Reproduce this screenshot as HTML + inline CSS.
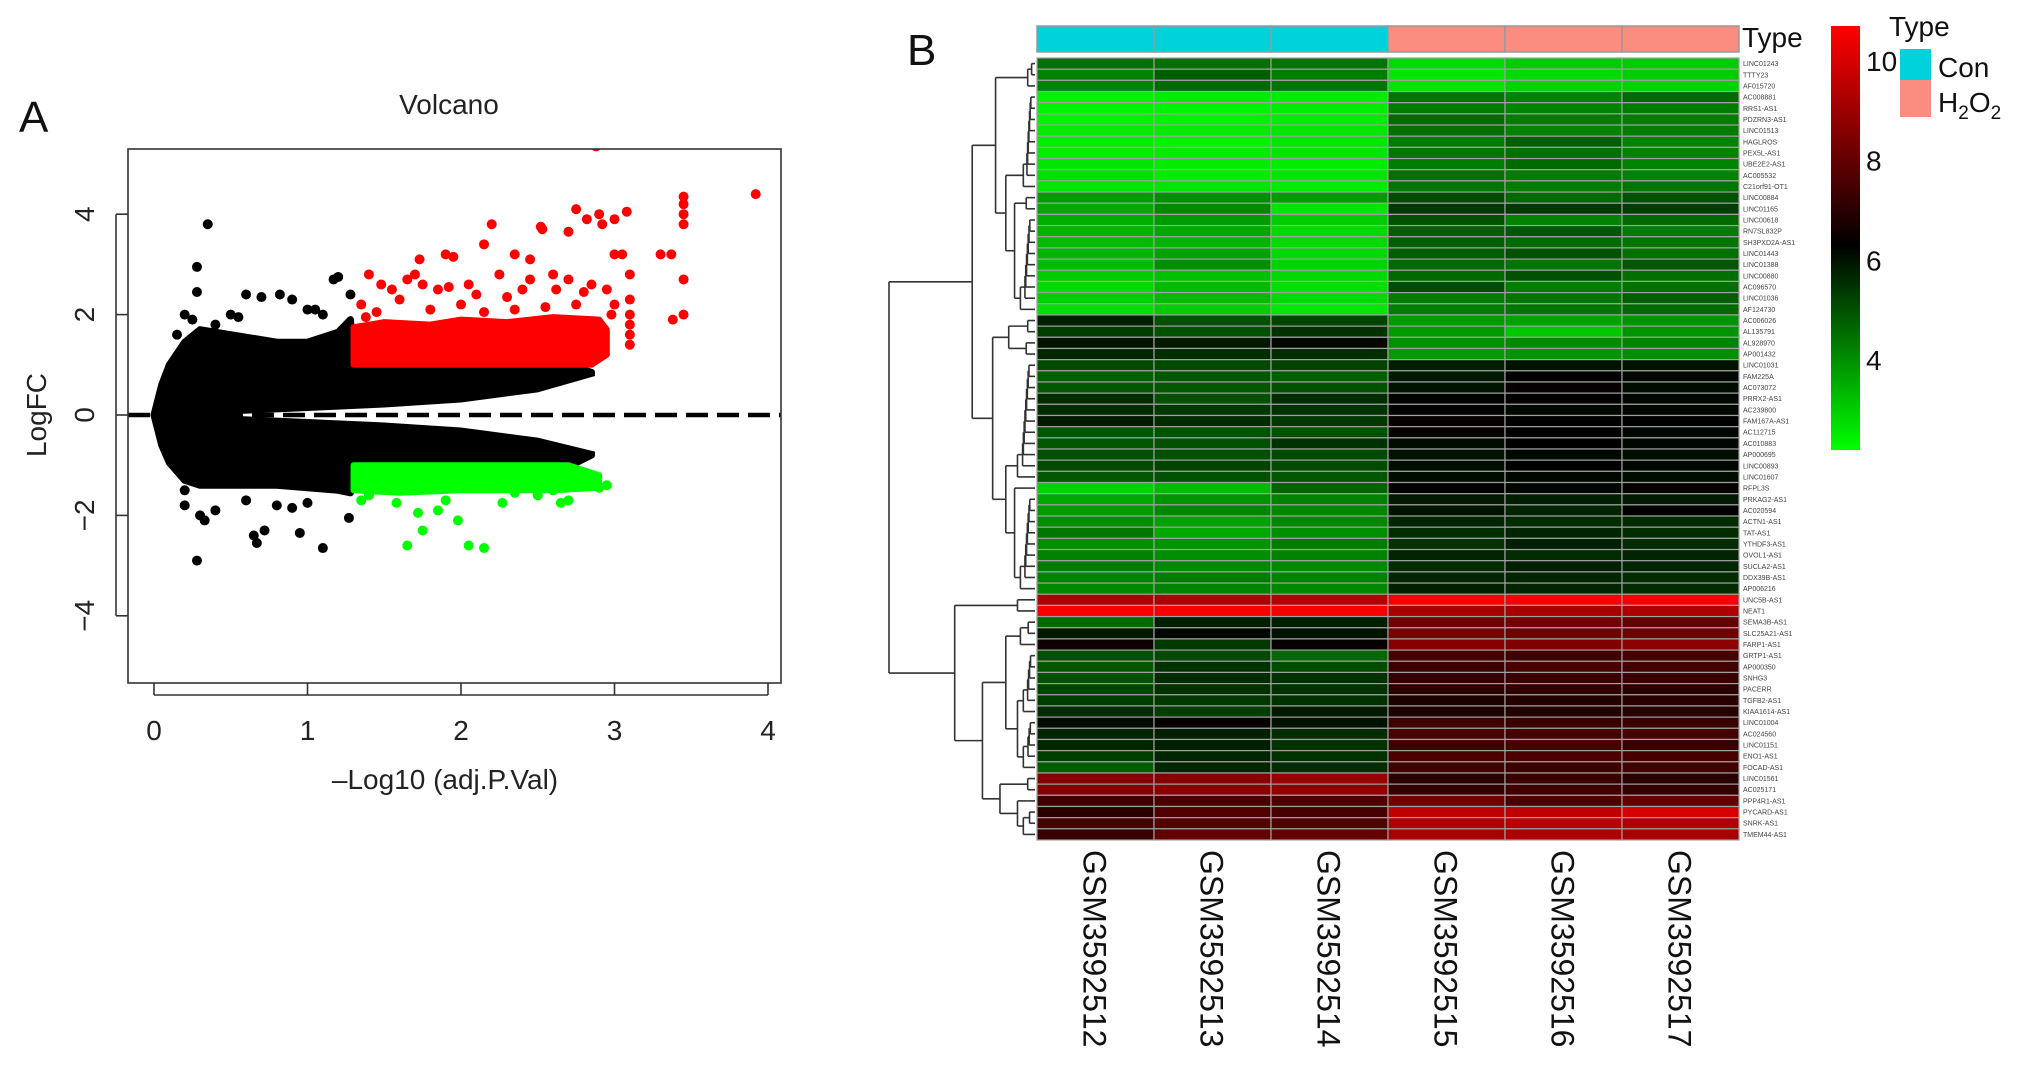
<!DOCTYPE html>
<html><head><meta charset="utf-8">
<style>
html,body{margin:0;padding:0;background:#fff;}
svg{display:block;font-family:"Liberation Sans",Arial,sans-serif;}
</style></head>
<body>
<svg id="fig" width="2032" height="1070" viewBox="0 0 2032 1070" xmlns="http://www.w3.org/2000/svg">
  <g id="volcano"></g>
  <g id="heat"></g>
</svg>
<script>
// ===== Volcano data =====
const envX      = [0, 0.05, 0.1, 0.2, 0.3, 0.5, 0.8, 1.0, 1.2, 1.28, 1.3, 1.5, 2.0, 2.5, 2.75, 2.85];
const envUpper  = [0, 0.6, 1.0, 1.45, 1.7, 1.6, 1.45, 1.45, 1.65, 1.9, 1.0, 0.95, 0.95, 0.95, 0.95, 0.85];
const envLower  = [0, -0.6, -0.95, -1.3, -1.4, -1.4, -1.4, -1.45, -1.5, -1.55, -1.0, -0.98, -0.95, -0.92, -0.95, -0.8];
const gapX      = [0.55, 1.0, 1.5, 2.0, 2.5, 2.9];
const gapUpper  = [0.02, 0.08, 0.15, 0.25, 0.45, 0.8];
const gapLower  = [-0.02, -0.08, -0.15, -0.25, -0.45, -0.75];
const blackX = [0.35,0.28,0.28,0.2,0.25,0.6,0.7,0.82,0.9,0.5,0.55,1.0,1.05,1.17,1.2,1.28,1.1,0.15,0.4,0.28,0.2,0.33,0.3,0.65,0.67,0.72,0.95,1.1,1.27,0.8,0.9,0.4,0.2,0.6,1.0];
const blackY = [3.8,2.95,2.45,2.0,1.9,2.4,2.35,2.4,2.3,2.0,1.95,2.1,2.1,2.7,2.75,2.4,2.0,1.6,1.8,-2.9,-1.8,-2.1,-2.0,-2.4,-2.55,-2.3,-2.35,-2.65,-2.05,-1.8,-1.85,-1.9,-1.5,-1.7,-1.75];
const redPolyX = [1.3,1.5,1.8,2.0,2.3,2.6,2.9,2.95,2.95,2.85,2.5,2.0,1.5,1.3];
const redPolyY = [1.75,1.85,1.8,1.9,1.85,1.95,1.9,1.7,1.2,1.0,1.0,1.0,1.0,1.0];
const redX = [2.88,3.92,3.45,3.45,3.45,3.45,3.45,3.45,3.38,3.3,3.37,3.0,3.05,2.75,2.82,2.9,3.0,3.08,2.92,2.2,2.52,2.53,2.7,2.15,2.35,1.9,1.95,1.73,2.45,1.4,1.48,1.55,1.7,1.75,1.85,2.05,2.25,2.45,2.6,2.7,2.85,3.1,3.1,3.1,3.1,3.1,2.95,3.0,1.35,1.6,2.1,2.4,2.8,1.92,2.62,3.1,2.0,1.65,2.3,1.45,1.8,2.15,2.55,2.75,2.98,1.38,2.35];
const redY = [5.35,4.4,4.35,4.2,4.0,3.8,2.7,2.0,1.9,3.2,3.2,3.2,3.2,4.1,3.9,4.0,3.9,4.05,3.8,3.8,3.75,3.7,3.65,3.4,3.2,3.2,3.15,3.1,3.1,2.8,2.6,2.5,2.8,2.6,2.5,2.6,2.8,2.7,2.8,2.7,2.6,2.8,2.3,2.0,1.6,1.4,2.5,2.2,2.2,2.3,2.4,2.5,2.45,2.55,2.5,1.8,2.2,2.7,2.35,2.05,2.1,2.05,2.15,2.2,2.0,1.95,2.1];
const greenPolyX = [1.3,1.6,2.0,2.4,2.7,2.9,2.9,2.6,2.0,1.6,1.3];
const greenPolyY = [-1.0,-1.0,-1.0,-1.0,-1.0,-1.2,-1.45,-1.5,-1.5,-1.55,-1.5];
const greenX = [1.65,2.05,2.15,1.75,1.72,1.98,1.85,2.27,2.65,2.7,2.9,2.95,1.4,1.58,2.5,2.35,2.8,2.6,1.35,1.9];
const greenY = [-2.6,-2.6,-2.65,-2.3,-1.95,-2.1,-1.9,-1.75,-1.75,-1.7,-1.45,-1.4,-1.6,-1.75,-1.6,-1.55,-1.2,-1.5,-1.7,-1.7];
const xTicks = [0,1,2,3,4];
const yTicks = [-4,-2,0,2,4];

const NS = "http://www.w3.org/2000/svg";
function mk(tag, attrs, parent){const e=document.createElementNS(NS,tag);for(const k in attrs)e.setAttribute(k,attrs[k]);parent.appendChild(e);return e;}

const vx = v => 154 + v*153.5;
const vy = v => 415 - v*50.2;
const V = document.getElementById('volcano');
const BX0=128, BX1=781, BY0=149, BY1=683;

let t = mk('text',{x:19,y:132,'font-size':44,fill:'#111'},V); t.textContent='A';


t = mk('text',{x:449,y:114,'font-size':28,'text-anchor':'middle',fill:'#222'},V); t.textContent='Volcano';



const defs = mk('defs',{},V);
const cp = mk('clipPath',{id:'vclip'},defs); mk('rect',{x:BX0,y:BY0,width:BX1-BX0,height:BY1-BY0},cp);
const plot = mk('g',{'clip-path':'url(#vclip)'},V);



let d = '';
envX.forEach((x,i)=>{d += (i?'L':'M')+vx(x)+','+vy(envUpper[i]);});
for(let i=envX.length-1;i>=0;i--) d += 'L'+vx(envX[i])+','+vy(envLower[i]);
let p = mk('path',{d:d+'Z',fill:'#000',stroke:'#000','stroke-width':7,'stroke-linejoin':'round'},plot);


d='';
gapX.forEach((x,i)=>{d += (i?'L':'M')+vx(x)+','+vy(gapUpper[i]);});
for(let i=gapX.length-1;i>=0;i--) d += 'L'+vx(gapX[i])+','+vy(gapLower[i]);
p = mk('path',{d:d+'Z',fill:'#fff'},plot);


blackX.forEach((x,i)=>{const c=mk('circle',{cx:vx(x),cy:vy(blackY[i]),r:5,fill:'#000'},plot);

});
d=''; redPolyX.forEach((x,i)=>{d+=(i?'L':'M')+vx(x)+','+vy(redPolyY[i]);});
p = mk('path',{d:d+'Z',fill:'#f00',stroke:'#f00','stroke-width':6,'stroke-linejoin':'round'},plot);


redX.forEach((x,i)=>{const c=mk('circle',{cx:vx(x),cy:vy(redY[i]),r:5,fill:'#f00'},plot);

});
d=''; greenPolyX.forEach((x,i)=>{d+=(i?'L':'M')+vx(x)+','+vy(greenPolyY[i]);});
p = mk('path',{d:d+'Z',fill:'#0f0',stroke:'#0f0','stroke-width':6,'stroke-linejoin':'round'},plot);


greenX.forEach((x,i)=>{const c=mk('circle',{cx:vx(x),cy:vy(greenY[i]),r:5,fill:'#0f0'},plot);

});
let ln = mk('line',{x1:BX0,x2:BX1,y1:vy(0),y2:vy(0),stroke:'#000','stroke-width':4.5,'stroke-dasharray':'22 9'},plot);


let r = mk('rect',{x:BX0,y:BY0,width:BX1-BX0,height:BY1-BY0,fill:'none',stroke:'#333','stroke-width':1.6},V);


xTicks.forEach(v=>{mk('line',{x1:vx(v),x2:vx(v),y1:BY1,y2:BY1+12,stroke:'#333','stroke-width':1.6},V);
 const tt=mk('text',{x:vx(v),y:740,'font-size':28,'text-anchor':'middle',fill:'#222'},V); tt.textContent=v;
 
 });
mk('line',{x1:vx(0),x2:vx(4),y1:BY1+12,y2:BY1+12,stroke:'#333','stroke-width':1.6},V);
yTicks.forEach(v=>{mk('line',{x1:BX0-12,x2:BX0,y1:vy(v),y2:vy(v),stroke:'#333','stroke-width':1.6},V);
 const tt=mk('text',{x:0,y:0,'font-size':28,'text-anchor':'middle',fill:'#222',transform:`translate(94,${vy(v)}) rotate(-90)`},V);
 tt.textContent = v<0 ? '\u2212'+(-v) : v;
 
 });
mk('line',{x1:BX0-12,x2:BX0-12,y1:vy(4),y2:vy(-4),stroke:'#333','stroke-width':1.6},V);
t = mk('text',{x:445,y:789,'font-size':28,'text-anchor':'middle',fill:'#222'},V); t.textContent='\u2013Log10 (adj.P.Val)';


t = mk('text',{x:0,y:0,'font-size':28,'text-anchor':'middle',fill:'#222',transform:'translate(46,415) rotate(-90)'},V); t.textContent='LogFC';



// ===== Heatmap data =====
const genes = ["LINC01243","TTTY23","AF015720","AC008881","RRS1-AS1","PDZRN3-AS1","LINC01513","HAGLROS","PEX5L-AS1","UBE2E2-AS1","AC005532","C21orf91-OT1","LINC00884","LINC01165","LINC00618","RN7SL832P","SH3PXD2A-AS1","LINC01443","LINC01388","LINC00880","AC096570","LINC01036","AF124730","AC006026","AL135791","AL928970","AP001432","LINC01031","FAM225A","AC073072","PRRX2-AS1","AC239800","FAM167A-AS1","AC112715","AC010883","AP000695","LINC00893","LINC01607","RFPL3S","PRKAG2-AS1","AC020594","ACTN1-AS1","TAT-AS1","YTHDF3-AS1","OVOL1-AS1","SUCLA2-AS1","DDX39B-AS1","AP006216","UNC5B-AS1","NEAT1","SEMA3B-AS1","SLC25A21-AS1","FARP1-AS1","GRTP1-AS1","AP000350","SNHG3","PACERR","TGFB2-AS1","KIAA1614-AS1","LINC01004","AC024560","LINC01151","ENO1-AS1","FOCAD-AS1","LINC01561","AC025171","PPP4R1-AS1","PYCARD-AS1","SNRK-AS1","TMEM44-AS1"];
const samples = ["GSM3592512","GSM3592513","GSM3592514","GSM3592515","GSM3592516","GSM3592517"];
const groups = ["Con","Con","Con","H2O2","H2O2","H2O2"];
const expr = [
[4.5,4.5,4.4,2.8,3.0,3.0],[4.2,4.8,4.3,2.6,2.8,3.0],[4.2,4.6,4.4,2.6,2.9,2.9],
[2.4,2.5,2.5,4.4,4.2,4.6],[2.4,2.4,2.5,4.3,4.2,4.3],[2.4,2.4,2.5,4.6,4.3,4.3],
[2.5,2.5,2.6,4.5,4.2,4.3],[2.5,2.4,2.6,4.3,4.8,4.2],[2.5,2.5,2.6,4.4,4.5,4.2],
[2.6,2.5,2.5,4.3,4.6,4.2],[2.7,2.5,2.6,4.5,4.3,4.2],[2.6,2.6,2.5,4.4,4.3,4.4],
[3.8,4.0,3.8,5.1,4.6,5.0],[3.6,4.1,2.6,5.4,5.4,5.3],[3.5,3.8,3.0,5.0,4.2,4.6],
[3.4,3.6,2.8,4.8,4.9,4.3],[3.3,3.4,2.8,4.8,4.6,4.4],[3.4,3.7,2.8,4.8,5.0,4.5],
[3.3,4.0,2.9,4.6,4.4,4.9],[3.0,3.2,2.8,4.6,5.0,4.5],[2.8,3.3,2.7,5.1,4.3,4.5],
[3.0,3.3,2.8,4.3,4.4,4.8],[2.7,3.0,2.6,4.3,4.4,4.6],
[5.8,5.0,5.2,3.8,3.7,3.9],[5.3,5.0,5.5,3.8,3.1,3.9],[6.0,5.9,6.2,4.0,4.1,4.2],[5.7,5.6,5.6,3.8,3.9,4.0],
[5.1,5.1,5.2,5.8,6.0,6.0],[4.8,4.9,4.8,5.9,6.3,6.2],[4.9,4.9,5.0,6.0,6.4,6.1],
[5.6,5.0,5.6,6.3,6.3,6.2],[5.6,5.4,5.5,6.3,6.2,6.2],[5.9,5.6,5.4,6.4,6.3,6.3],
[4.9,5.0,5.0,6.4,6.3,6.2],[4.9,5.0,5.5,6.1,6.3,6.2],[5.0,5.0,5.1,6.0,6.2,6.1],
[5.1,5.2,5.1,6.1,6.3,6.2],[4.9,5.0,4.9,6.1,6.2,6.1],
[2.9,3.3,4.7,6.3,6.2,6.4],[3.6,3.9,4.2,5.9,5.8,5.9],[3.8,4.1,4.1,6.0,5.7,6.3],
[4.0,3.7,4.1,5.7,5.6,5.6],[4.4,3.6,4.0,5.6,5.7,5.6],[4.0,3.9,4.3,5.5,5.8,5.6],
[4.2,4.0,4.2,5.7,5.6,5.7],[4.3,4.1,4.1,5.6,5.8,5.7],[4.2,4.3,4.2,5.7,5.7,5.6],[4.1,4.2,4.1,5.8,5.7,5.6],
[9.3,9.3,9.4,10.6,10.6,10.6],[10.6,10.6,10.6,9.2,9.2,9.3],
[4.6,5.8,5.8,8.2,8.3,8.0],[5.9,6.2,6.0,8.4,8.2,8.2],[6.5,5.4,6.4,8.6,8.5,8.7],
[5.0,5.1,4.6,7.5,7.4,7.5],[4.9,5.5,5.1,7.3,7.5,7.4],[5.0,5.6,5.5,7.2,7.3,7.3],
[5.2,5.5,5.5,7.0,7.1,7.0],[5.3,5.4,5.5,6.8,6.9,7.0],[5.6,5.3,5.9,6.8,6.9,7.0],
[6.1,6.4,6.0,7.4,7.3,7.3],[5.7,5.8,5.6,7.6,7.5,7.5],[5.7,5.8,5.5,7.4,7.5,7.2],
[5.3,5.7,5.5,7.6,7.6,7.5],[4.8,5.7,5.6,7.4,7.3,7.4],
[8.6,8.6,8.9,7.0,7.3,7.0],[8.6,8.7,8.8,7.2,7.4,7.2],
[7.3,7.5,7.6,8.2,7.6,8.0],[7.0,7.7,7.5,9.6,9.6,10.0],[7.5,7.8,7.7,9.3,9.5,9.3],[7.3,8.0,8.0,9.2,9.3,9.2]
];
const colorStops = [2.2, 6.3, 10.7];
const legendTicks = [4,6,8,10];
const dendro = {h:100,c:[
  {h:43,c:[
    {h:27,c:[{h:5,r:[0,2]},{h:20,c:[{h:8,r:[3,11]},{h:14,c:[{h:6,r:[12,13]},{h:10,r:[14,22]}]}]}]},
    {h:29,c:[{h:18,c:[{h:5,r:[23,24]},{h:6,r:[25,26]}]},{h:20,c:[{h:12,r:[27,37]},{h:14,c:[{h:5,r:[38,38]},{h:10,r:[39,47]}]}]}]}
  ]},
  {h:55,c:[
    {h:12,r:[48,49]},
    {h:36,c:[{h:20,c:[{h:10,r:[50,52]},{h:12,c:[{h:8,r:[53,58]},{h:8,r:[59,63]}]}]},{h:24,c:[{h:5,r:[64,65]},{h:12,c:[{h:5,r:[66,66]},{h:8,r:[67,69]}]}]}]}
  ]}
]};

const H = document.getElementById('heat');
const hx0=1037, hx1=1739, hy0=58, hy1=840;
const cw=(hx1-hx0)/samples.length, rh=(hy1-hy0)/genes.length;
function colorOf(v){
  if(v<=colorStops[1]){const f=Math.max(0,Math.min(1,(colorStops[1]-v)/(colorStops[1]-colorStops[0])));return `rgb(0,${Math.round(255*f)},0)`;}
  const f=Math.max(0,Math.min(1,(v-colorStops[1])/(colorStops[2]-colorStops[1])));return `rgb(${Math.round(255*f)},0,0)`;
}
t = mk('text',{x:907,y:65,'font-size':44,fill:'#111'},H); t.textContent='B';


groups.forEach((g,j)=>{const rr=mk('rect',{x:hx0+j*cw,y:26,width:cw,height:26,fill:g==='Con'?'#00d2dc':'#fb8c80',stroke:'#999','stroke-width':1.5},H);
 
 });
t = mk('text',{x:1742,y:47,'font-size':28,fill:'#111'},H); t.textContent='Type';


expr.forEach((row,i)=>row.forEach((v,j)=>{
  const c=mk('rect',{x:hx0+j*cw,y:hy0+i*rh,width:cw,height:rh,fill:colorOf(v),stroke:'#a0a0a0','stroke-width':1.2},H);
  
  
}));
genes.forEach((g,i)=>{const tt=mk('text',{x:1743,y:hy0+i*rh+rh/2+2.5,'font-size':7,fill:'#444'},H);tt.textContent=g;
 
 });
samples.forEach((s,j)=>{const cx=hx0+j*cw+cw/2;const tt=mk('text',{x:0,y:0,'font-size':32,fill:'#111',transform:`translate(${cx-12},850) rotate(90)`},H);tt.textContent=s;
 
 });
const dxOf = h => 1035 - h*1.46;
const dg = mk('g',{stroke:'#333','stroke-width':1.6,fill:'none'},H);


function seg(x1,y1,x2,y2){mk('line',{x1,y1,x2,y2},dg);}
function draw(node){
  if(node.r){
    const [a,b]=node.r; const x=dxOf(node.h);
    if(a===b){const y=hy0+(a+0.5)*rh; seg(x,y,1035,y); return y;}
    let y=hy0+(a+0.5)*rh; let px=1035;
    for(let k=a+1;k<=b;k++){
      const y2=hy0+(k+0.5)*rh; const xm = (k===b)? x : 1035-(node.h*1.46)*(0.3+0.5*(k-a)/(b-a+1));
      seg(px,y,xm,y); seg(1035,y2,xm,y2); seg(xm,y,xm,y2);
      y=(y+y2)/2; px=xm;
    }
    return y;
  }
  const x=dxOf(node.h); const ys=node.c.map(ch=>{const yy=draw(ch); seg(x,yy,dxOf(ch.h),yy); return yy;});
  seg(x,ys[0],x,ys[1]); return (ys[0]+ys[1])/2;
}
draw(dendro);
const lg = mk('defs',{},H); const grad=mk('linearGradient',{id:'cg',x1:0,y1:1,x2:0,y2:0},lg);
[[0,'#00ff00'],[(colorStops[1]-colorStops[0])/(colorStops[2]-colorStops[0]),'#000'],[1,'#ff0000']].forEach(([o,c])=>mk('stop',{offset:o,'stop-color':c},grad));
r = mk('rect',{x:1831,y:26,width:29,height:424,fill:'url(#cg)'},H);


const ly = v => 450 - (v-colorStops[0])/(colorStops[2]-colorStops[0])*424;
legendTicks.forEach(v=>{const tt=mk('text',{x:1866,y:ly(v)+10,'font-size':28,fill:'#111'},H);tt.textContent=v;
 
 });
t = mk('text',{x:1889,y:36,'font-size':28,fill:'#111'},H); t.textContent='Type';


r = mk('rect',{x:1900,y:49,width:31,height:31,fill:'#00d2dc'},H);


r = mk('rect',{x:1900,y:80,width:31,height:37,fill:'#fb8c80'},H);


t = mk('text',{x:1938,y:77,'font-size':28,fill:'#111'},H); t.textContent='Con';


t = mk('text',{x:1938,y:112,'font-size':28,fill:'#111'},H);
t.innerHTML='H<tspan font-size="19" dy="7">2</tspan><tspan dy="-7">O</tspan><tspan font-size="19" dy="7">2</tspan>';


</script>
</body></html>
